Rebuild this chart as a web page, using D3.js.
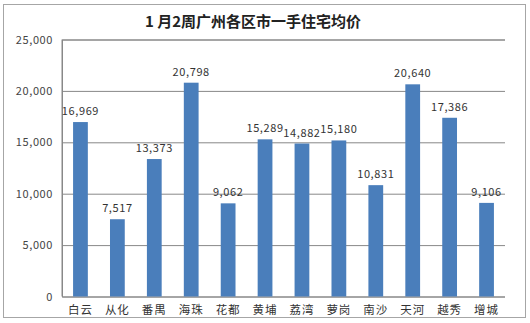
<!DOCTYPE html>
<html><head><meta charset="utf-8">
<script src="https://cdn.jsdelivr.net/npm/d3@7"></script>
<style>body{margin:0;background:#fff}</style>
</head><body>
<svg id="c" width="530" height="323"></svg>
<script>
const categories = ["白云","从化","番禺","海珠","花都","黄埔","荔湾","萝岗","南沙","天河","越秀","增城"];
const values = [16969,7517,13373,20798,9062,15289,14882,15180,10831,20640,17386,9106];
const yTicks = [0,5000,10000,15000,20000,25000];
const title = "1 月2周广州各区市一手住宅均价";

const svg = d3.select("#c");
const font = "'Noto Sans CJK SC', sans-serif";
svg.append("rect").attr("x",3.5).attr("y",4.5).attr("width",522).attr("height",313)
  .attr("fill","#fff").attr("stroke","#a6a6a6");

const x = d3.scaleBand().domain(categories).range([62,505]).paddingInner(0.6).paddingOuter(0.3);
const y = d3.scaleLinear().domain([0,25000]).range([296.5,39.5]);
const fmt = d3.format(",");

svg.append("text").attr("x",253).attr("y",27).attr("text-anchor","middle")
  .attr("font-family",font).attr("font-size",15).attr("font-weight","bold").attr("fill","#222").text(title);

const ya = svg.append("g").attr("transform","translate(62,0)")
  .call(d3.axisLeft(y).tickValues(yTicks).tickSize(-443).tickFormat(fmt).tickPadding(9));
ya.select(".domain").attr("stroke","#888");
ya.selectAll(".tick line").attr("stroke","#888");
ya.selectAll("text").attr("font-family",font).attr("font-size",11).attr("fill","#444").attr("letter-spacing",0.6);

svg.append("line").attr("x1",62).attr("x2",62).attr("y1",39.5).attr("y2",296.5).attr("stroke","#888");

svg.selectAll("rect.bar").data(values).join("rect").attr("class","bar")
  .attr("x",(d,i)=>x(categories[i])).attr("width",x.bandwidth())
  .attr("y",d=>y(d)).attr("height",d=>y(0)-y(d)).attr("fill","#4a7ebb");

svg.selectAll("text.val").data(values).join("text").attr("class","val")
  .attr("x",(d,i)=>x(categories[i])+x.bandwidth()/2).attr("y",d=>y(d)-7)
  .attr("text-anchor","middle").attr("font-family",font).attr("font-size",11).attr("fill","#333")
  .attr("letter-spacing",0.6).text(d=>fmt(d));

svg.selectAll("text.cat").data(categories).join("text").attr("class","cat")
  .attr("x",d=>x(d)+x.bandwidth()/2).attr("y",314)
  .attr("text-anchor","middle").attr("font-family",font).attr("font-size",11.5).attr("fill","#333")
  .attr("letter-spacing",1).text(d=>d);
</script>
</body></html>
